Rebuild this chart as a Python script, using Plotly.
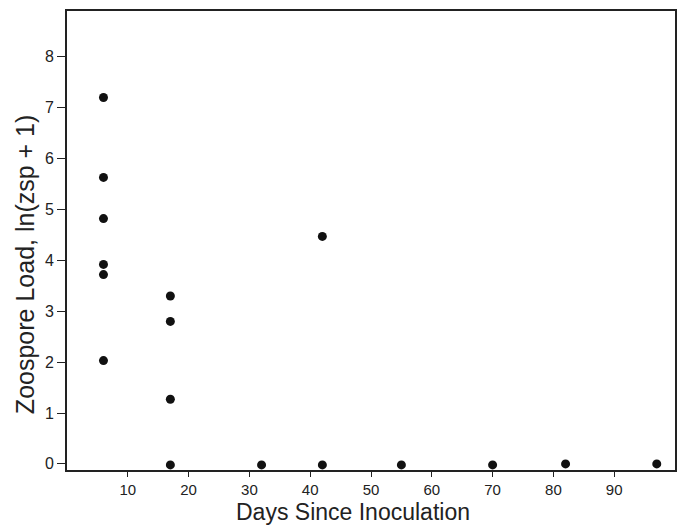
import plotly.graph_objects as go

# Data
days = [6, 6, 6, 6, 6, 6,
        17, 17, 17, 17,
        32,
        42, 42,
        55, 70, 82, 97]
load = [7.2, 5.63, 4.82, 3.92, 3.72, 2.03,
        3.30, 2.80, 1.27, -0.02,
        -0.02,
        4.47, -0.02,
        -0.02, -0.02, 0.0, 0.0]

x_ticks = [10, 20, 30, 40, 50, 60, 70, 80, 90]
y_ticks = [0, 1, 2, 3, 4, 5, 6, 7, 8]

x_title = "Days Since Inoculation"
y_title = "Zoospore Load, ln(zsp + 1)"

fig = go.Figure()
fig.add_trace(go.Scatter(
    x=days, y=load, mode="markers",
    marker=dict(color="#111111", size=9, line=dict(width=0)),
    showlegend=False,
))

font_family = "Liberation Sans, Arial, sans-serif"

fig.update_layout(
    width=679, height=525,
    margin=dict(l=67, r=2, t=11, b=55),
    paper_bgcolor="white", plot_bgcolor="white",
    font=dict(family=font_family, color="#222222", size=16),
    xaxis=dict(
        range=[0, 100], tickvals=x_ticks, ticktext=[str(v) for v in x_ticks],
        showgrid=False, zeroline=False,
        showline=True, mirror=True, linecolor="#222222", linewidth=2,
        ticks="outside", ticklen=5, tickwidth=1.2, tickcolor="#222222",
        tickfont=dict(size=15, color="#222222"),
    ),
    yaxis=dict(
        range=[-0.12, 8.9], tickvals=y_ticks, ticktext=[str(v) for v in y_ticks],
        showgrid=False, zeroline=False,
        showline=True, mirror=True, linecolor="#222222", linewidth=2,
        ticks="outside", ticklen=8, tickwidth=1.2, tickcolor="#222222",
        tickfont=dict(size=16, color="#222222"),
    ),
    annotations=[
        dict(text=x_title, xref="paper", yref="paper",
             x=(354 - 67) / 610, y=-(512 - 470) / 459,
             xanchor="center", yanchor="middle", showarrow=False,
             font=dict(size=23, color="#222222", family=font_family)),
        dict(text=y_title, xref="paper", yref="paper",
             x=-(67 - 25) / 610, y=(470 - 265) / 459,
             xanchor="center", yanchor="middle", showarrow=False,
             textangle=-90,
             font=dict(size=25, color="#222222", family=font_family)),
    ],
)

fig.write_html(
    "out.html",
    config={"displayModeBar": False},
    post_script="document.body.style.margin='0';document.body.style.overflow='hidden';",
)
